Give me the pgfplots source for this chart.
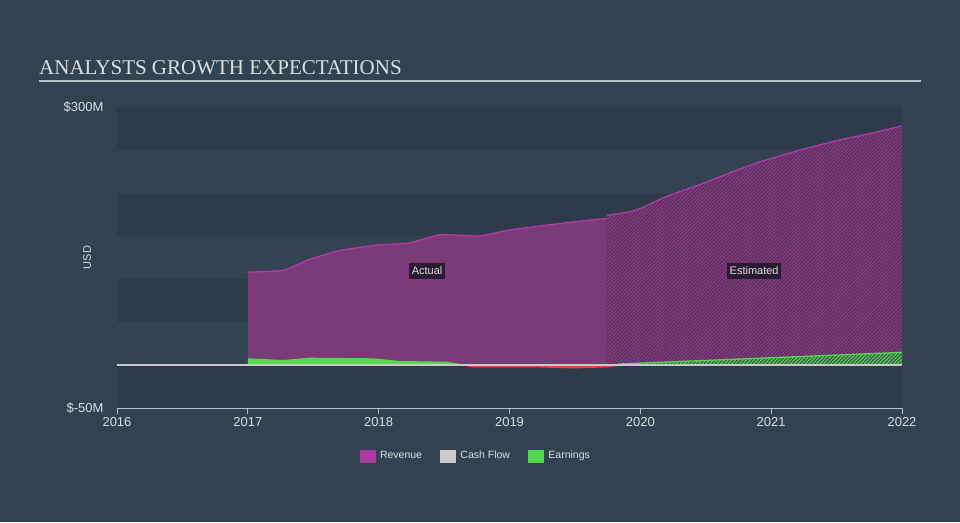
\documentclass[border=0pt]{standalone}
\usepackage{pgfplots}
\pgfplotsset{compat=1.18}
\usetikzlibrary{patterns.meta}
\usepackage{fontspec}
\setmainfont{Liberation Sans}
\newfontfamily\titlefont{Liberation Serif}
\definecolor{bg}{HTML}{324250}
\definecolor{banddark}{HTML}{2D3B4A}
\definecolor{bandlight}{HTML}{334352}
\definecolor{revfill}{HTML}{7B3A78}
\definecolor{revline}{HTML}{B53AA8}
\definecolor{revest}{HTML}{5A2D5D}
\definecolor{revhatch}{HTML}{8C3F89}
\definecolor{earn}{HTML}{52D94E}
\definecolor{earnest}{HTML}{3C6246}
\definecolor{earnhatch}{HTML}{5AD35A}
\definecolor{neg}{HTML}{E5483A}
\definecolor{zeroline}{HTML}{C8C8C8}
\definecolor{axisgray}{HTML}{B8C0C8}
\definecolor{txt}{HTML}{DCDFE2}
\definecolor{boxbg}{HTML}{2C1A30}
\definecolor{legcash}{HTML}{CCCCCC}
\definecolor{legrev}{HTML}{A93A9B}
\begin{document}
\begin{tikzpicture}[x=1pt,y=1pt]
\path[use as bounding box] (0,0) rectangle (960,522);
\fill[bg] (0,0) rectangle (960,522);
\node[anchor=base west, text=txt, font=\titlefont\fontsize{21}{24}\selectfont, inner sep=0pt] at (39,447) {ANALYSTS GROWTH EXPECTATIONS};
\draw[axisgray, line width=1.5pt] (39,441) -- (921,441);
\begin{axis}[
  at={(117pt,114pt)}, anchor=south west,
  scale only axis, width=785pt, height=301pt,
  xmin=2016, xmax=2022, ymin=-50, ymax=300,
  xtick={2016,2017,2018,2019,2020,2021,2022},
  xticklabels={2016,2017,2018,2019,2020,2021,2022},
  ytick={-50,300}, yticklabels={\$-50M,\$300M},
  /pgf/number format/assume math mode=true,
  axis x line*=bottom, axis y line*=left,
  x axis line style={axisgray, line width=0.8pt, -},
  y axis line style={draw=none},
  xtick style={axisgray, line width=0.8pt},
  ytick style={draw=none},
  tick align=outside, major tick length=6pt,
  tick label style={text=txt, font=\fontsize{13}{15}\selectfont},
  yticklabel style={xshift=-4pt},
  ylabel={USD},
  ylabel style={at={(axis description cs:-0.038,0.5)}, anchor=center, text=txt, font=\fontsize{11}{13}\selectfont},
  legend style={at={(axis description cs:0.457,-0.159)}, anchor=center, draw=none, fill=none, text=txt, font=\fontsize{10.5}{12}\selectfont, legend columns=3, /tikz/every even column/.append style={column sep=16pt}, /tikz/every odd column/.append style={column sep=3pt}},
  legend cell align=left,
  clip=false,
]
% background bands
\fill[banddark] (axis cs:2016,250) rectangle (axis cs:2022,300);
\fill[bandlight] (axis cs:2016,200) rectangle (axis cs:2022,250);
\fill[banddark] (axis cs:2016,150) rectangle (axis cs:2022,200);
\fill[bandlight] (axis cs:2016,100) rectangle (axis cs:2022,150);
\fill[banddark] (axis cs:2016,50) rectangle (axis cs:2022,100);
\fill[bandlight] (axis cs:2016,0) rectangle (axis cs:2022,50);
\fill[banddark] (axis cs:2016,-50) rectangle (axis cs:2022,0);

% revenue actual
\addplot[draw=none, fill=revfill, forget plot] coordinates {
(2017.0,0) (2017.0,108) (2017.27,110) (2017.475,123) (2017.70,133) (2017.99,139.5) (2018.24,142) (2018.47,151.5) (2018.77,150) (2019.0,157) (2019.41,165) (2019.745,170.5) (2019.745,0)} -- cycle;
% revenue estimated
\addplot[draw=none, fill=revest, forget plot] coordinates {
(2019.745,0) (2019.745,174) (2019.92,178) (2020.0,182) (2020.20,196) (2020.46,210) (2020.71,225) (2020.91,236) (2021.22,250) (2021.53,262) (2021.78,270) (2022.0,278) (2022.0,0)} -- cycle;
\addplot[draw=none, pattern={Lines[angle=45,distance=2.6pt,line width=1pt]}, pattern color=revhatch, forget plot] coordinates {
(2019.745,0) (2019.745,174) (2019.92,178) (2020.0,182) (2020.20,196) (2020.46,210) (2020.71,225) (2020.91,236) (2021.22,250) (2021.53,262) (2021.78,270) (2022.0,278) (2022.0,0)} -- cycle;
% revenue line
\addplot[revline, line width=1.3pt, smooth, tension=0.3, forget plot] coordinates {
(2017.0,108) (2017.27,110) (2017.475,123) (2017.70,133) (2017.99,139.5) (2018.24,142) (2018.47,151.5) (2018.77,150) (2019.0,157) (2019.41,165) (2019.745,170.5)};
\addplot[revline, line width=1.3pt, forget plot] coordinates {
(2019.745,174) (2019.92,178) (2020.0,182) (2020.20,196) (2020.46,210) (2020.71,225) (2020.91,236) (2021.22,250) (2021.53,262) (2021.78,270) (2022.0,278)};

% earnings actual positive
\addplot[draw=none, fill=earn, forget plot] coordinates {
(2017.0,0) (2017.0,7.8) (2017.27,5.8) (2017.475,8.5) (2017.96,7.8) (2018.16,4.7) (2018.52,3.8) (2018.675,0)} -- cycle;
% earnings actual negative
\addplot[draw=none, fill=neg, forget plot] coordinates {
(2018.675,0) (2018.72,-1.9) (2019.23,-1.9) (2019.49,-3.1) (2019.745,-1.2) (2019.82,0)} -- cycle;
\addplot[neg, line width=1.6pt, forget plot] coordinates {
(2018.675,-0.5) (2018.72,-1.9) (2019.23,-1.9) (2019.49,-3.1) (2019.745,-1.8) (2019.82,-0.5)};
% earnings estimated
\addplot[draw=none, fill=earnest, forget plot] coordinates {
(2019.82,0) (2019.845,1.2) (2022.0,14.7) (2022.0,0)} -- cycle;
\addplot[draw=none, pattern={Lines[angle=45,distance=2.6pt,line width=1pt]}, pattern color=earnhatch, forget plot] coordinates {
(2019.82,0) (2019.845,1.2) (2022.0,14.7) (2022.0,0)} -- cycle;
\addplot[earn, line width=1.3pt, forget plot] coordinates {(2019.80,0) (2019.845,1.2) (2022.0,14.7)};

% cash flow / zero line
\addplot[zeroline, line width=1.5pt, forget plot] coordinates {(2016,0) (2022,0)};

\node[fill=boxbg, text=txt, font=\fontsize{11}{13}\selectfont, inner xsep=2.5pt, inner ysep=4pt] at (axis cs:2018.37,109.3) {Actual};
\node[fill=boxbg, text=txt, font=\fontsize{11}{13}\selectfont, inner xsep=2.5pt, inner ysep=4pt] at (axis cs:2020.87,109.3) {Estimated};

\addlegendimage{legend image code/.code={\fill[legrev] (0pt,-6pt) rectangle (15pt,6pt);}}
\addlegendentry{Revenue}
\addlegendimage{legend image code/.code={\fill[legcash] (0pt,-6pt) rectangle (15pt,6pt);}}
\addlegendentry{Cash Flow}
\addlegendimage{legend image code/.code={\fill[earn] (0pt,-6pt) rectangle (15pt,6pt);}}
\addlegendentry{Earnings}
\end{axis}
\end{tikzpicture}
\end{document}
